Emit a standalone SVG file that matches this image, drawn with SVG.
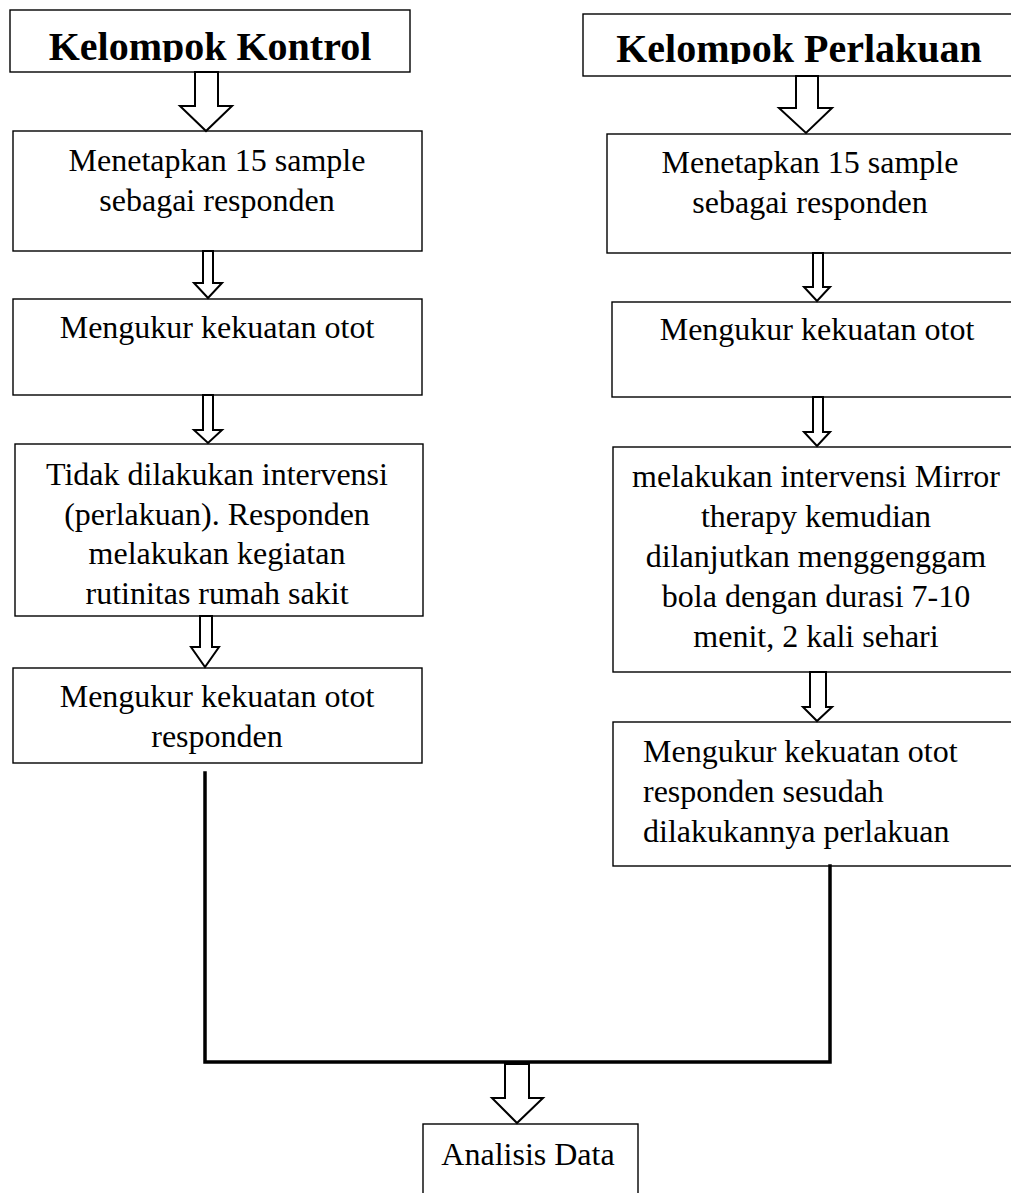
<svg xmlns="http://www.w3.org/2000/svg" width="1011" height="1193" viewBox="0 0 1011 1193">
<style>
.box{fill:#fff;stroke:#000;stroke-width:1.4}
.t{font-family:"Liberation Serif","Times New Roman",serif;font-size:32px;fill:#000;text-anchor:middle}
.tl{font-family:"Liberation Serif","Times New Roman",serif;font-size:32px;fill:#000}
.h{font-family:"Liberation Serif","Times New Roman",serif;font-size:40px;font-weight:bold;fill:#000;text-anchor:middle}
.arr{fill:#fff;stroke:#000;stroke-width:2;stroke-linejoin:miter}
.ln{fill:none;stroke:#000;stroke-width:3.5;stroke-linecap:square}
</style>
<defs>
<clipPath id="clipL"><rect x="10" y="10" width="400" height="52"/></clipPath>
<clipPath id="clipR"><rect x="583" y="14" width="440" height="50"/></clipPath>
</defs>
<rect width="1011" height="1193" fill="#fff"/>

<g id="header-kontrol">
<rect class="box" x="10" y="10" width="400" height="62"/>
<text class="h" x="210" y="60" clip-path="url(#clipL)">Kelompok Kontrol</text>
</g>
<g id="header-perlakuan">
<rect class="box" x="583" y="14" width="440" height="62"/>
<text class="h" x="799" y="62" clip-path="url(#clipR)">Kelompok Perlakuan</text>
</g>

<g id="k1">
<rect class="box" x="13" y="131" width="409" height="120"/>
<text class="t" x="217" y="171">Menetapkan 15 sample</text>
<text class="t" x="217" y="211">sebagai responden</text>
</g>
<g id="k2">
<rect class="box" x="13" y="299" width="409" height="96"/>
<text class="t" x="217" y="338">Mengukur kekuatan otot</text>
</g>
<g id="k3">
<rect class="box" x="15" y="444" width="408" height="172"/>
<text class="t" x="217" y="485">Tidak dilakukan intervensi</text>
<text class="t" x="217" y="525">(perlakuan). Responden</text>
<text class="t" x="217" y="564">melakukan kegiatan</text>
<text class="t" x="217" y="604">rutinitas rumah sakit</text>
</g>
<g id="k4">
<rect class="box" x="13" y="668" width="409" height="95"/>
<text class="t" x="217" y="707">Mengukur kekuatan otot</text>
<text class="t" x="217" y="747">responden</text>
</g>

<g id="p1">
<rect class="box" x="607" y="134" width="420" height="119"/>
<text class="t" x="810" y="173">Menetapkan 15 sample</text>
<text class="t" x="810" y="213">sebagai responden</text>
</g>
<g id="p2">
<rect class="box" x="612" y="302" width="415" height="95"/>
<text class="t" x="817" y="340">Mengukur kekuatan otot</text>
</g>
<g id="p3">
<rect class="box" x="613" y="447" width="414" height="225"/>
<text class="t" x="816" y="487">melakukan intervensi Mirror</text>
<text class="t" x="816" y="527">therapy kemudian</text>
<text class="t" x="816" y="567">dilanjutkan menggenggam</text>
<text class="t" x="816" y="607">bola dengan durasi 7-10</text>
<text class="t" x="816" y="647">menit, 2 kali sehari</text>
</g>
<g id="p4">
<rect class="box" x="613" y="722" width="414" height="144"/>
<text class="tl" x="643" y="762">Mengukur kekuatan otot</text>
<text class="tl" x="643" y="802">responden sesudah</text>
<text class="tl" x="643" y="842">dilakukannya perlakuan</text>
</g>

<g id="analisis">
<rect class="box" x="423" y="1124" width="215" height="80"/>
<text class="t" x="528" y="1165">Analisis Data</text>
</g>

<g id="connectors">
<polygon class="arr" points="195,72 218,72 218,106 232,106 206,131 180,106 195,106"/>
<polygon class="arr" points="203,251 213,251 213,283 222,283 208,298 194,283 203,283"/>
<polygon class="arr" points="203,395 213,395 213,430 222,430 208,443 194,430 203,430"/>
<polygon class="arr" points="200,616 212,616 212,647 219,647 205,667 191,647 200,647"/>
<polygon class="arr" points="796,76 818,76 818,108 832,108 806,133 779,108 796,108"/>
<polygon class="arr" points="813,253 823,253 823,287 830,287 817,301 804,287 813,287"/>
<polygon class="arr" points="813,397 823,397 823,432 830,432 817,446 804,432 813,432"/>
<polygon class="arr" points="810,672 826,672 826,707 832,707 817,721 803,707 810,707"/>
<polyline class="ln" points="205,773 205,1062 830,1062 830,866"/>
<polygon class="arr" points="505,1064 529,1064 529,1098 543,1098 517,1123 492,1098 505,1098"/>
</g>
</svg>
